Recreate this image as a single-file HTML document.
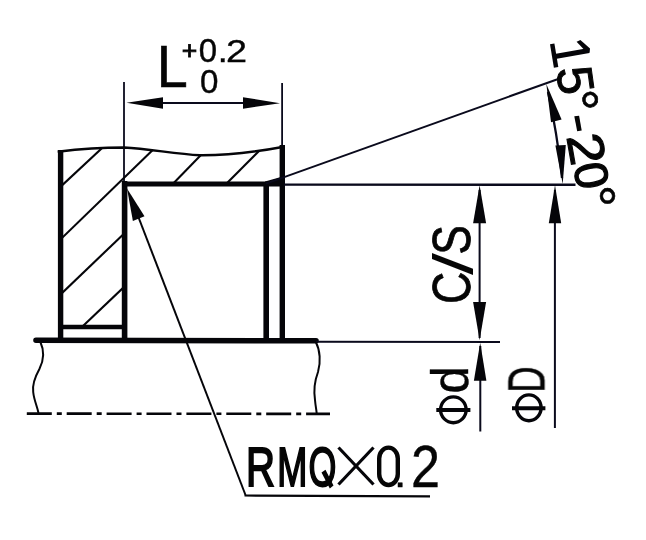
<!DOCTYPE html>
<html><head><meta charset="utf-8"><style>
html,body{margin:0;padding:0;background:#fff;}
svg{display:block;}
</style></head><body>
<svg width="646" height="540" viewBox="0 0 646 540">
<rect width="646" height="540" fill="#fff"/>
<g stroke="#0a0a1c" fill="none" stroke-linecap="butt">
<line x1="124" y1="82" x2="124" y2="181" stroke-width="1.8" />
<line x1="282.1" y1="83" x2="282.1" y2="146" stroke-width="1.8" />
<line x1="140" y1="103" x2="265" y2="103" stroke-width="2" />
</g>
<g fill="#050509">
<polygon points="126.5,102.7 163.0,108.7 163.0,97.3"/>
<polygon points="280.0,103.2 243.0,97.3 243.0,108.7"/>
</g>
<defs><clipPath id="mat"><path d="M60,151.5 C80,149 100,147.5 124,147.5 C150,149 175,154 200,155.3 C225,155.5 250,153 282,147 L282,177 L266,182 L124,182 L124,327 L60,327 Z"/></clipPath></defs>
<g clip-path="url(#mat)" stroke="#050509" stroke-width="2.1">
<line x1="110.8" y1="139.9" x2="53" y2="193.8" stroke-width="2.1" />
<line x1="161.3" y1="141.7" x2="53.3" y2="246.4" stroke-width="2.1" />
<line x1="210.1" y1="145.6" x2="165.7" y2="191.3" stroke-width="2.1" />
<line x1="131" y1="226.9" x2="53.3" y2="301.5" stroke-width="2.1" />
<line x1="267.3" y1="142.8" x2="218.6" y2="191.4" stroke-width="2.1" />
<line x1="131.6" y1="279.8" x2="73.5" y2="335.0" stroke-width="2.1" />
</g>
<g stroke="#050509" fill="none">
<path d="M57.7,151.7 C80,149 100,147.5 124,147.5 C150,149 175,154 200,155.3 C225,155.5 250,153 281,147.2" stroke-width="2.4"/>
<line x1="60.6" y1="150" x2="60.6" y2="340" stroke-width="5.4" />
<line x1="124.6" y1="181" x2="124.6" y2="340" stroke-width="5.6" />
<line x1="122" y1="184.1" x2="269" y2="184.1" stroke-width="5" />
<line x1="60" y1="327" x2="125" y2="327" stroke-width="4.6" />
<line x1="266.2" y1="182" x2="266.2" y2="340" stroke-width="5.6" />
<line x1="282.3" y1="145" x2="282.3" y2="340" stroke-width="5.4" />
</g>
<polygon points="265,181.6 280,177.2 282,177.2 282,186.5 265,186.5" fill="#050509"/>
<g stroke="#050509" fill="none">
<path d="M36,340.3 L316,340.8" stroke-width="5.6" stroke-linecap="round"/>
<line x1="316" y1="341.7" x2="500" y2="342" stroke-width="2" stroke="#0a0a1c"/>
<path d="M40.4,342 C45,352 43,362 39.4,369 C35,377 32,384 33.2,392 C34,400 37,406 38.5,413" stroke-width="2"/>
<path d="M316,342.5 C320,350 321,362 318,372 C315,380 313.5,390 315,400 C315.5,406 316.5,410 316.7,413.5" stroke-width="2"/>
<path d="M26.8,413.6 L330,413.9" stroke-width="2.6" stroke-dasharray="25 5 5 4.9"/>
</g>
<g stroke="#050509" fill="none">
<line x1="133" y1="203" x2="245.5" y2="495" stroke-width="2" />
<line x1="244.5" y1="495.5" x2="430" y2="496.3" stroke-width="2.2" />
</g>
<g fill="#050509">
<polygon points="127.0,188.5 132.9,220.9 144.5,216.3"/>
</g>
<g stroke="#0a0a1c" fill="none">
<line x1="266" y1="183.6" x2="557.5" y2="79.2" stroke-width="2" />
<line x1="284" y1="184.6" x2="575.5" y2="184.8" stroke-width="2.4" />
<path d="M548,92 Q557,132 562,178" stroke-width="2.3"/>
</g>
<g fill="#050509">
<polygon points="546.3,84.0 551.0,122.2 561.6,119.4"/>
<polygon points="562.7,184.0 565.8,145.0 555.4,145.6"/>
</g>
<g stroke="#0a0a1c" fill="none">
<line x1="479.6" y1="190" x2="479.6" y2="338" stroke-width="2" />
<line x1="480.3" y1="346" x2="480.3" y2="431.5" stroke-width="2" />
<line x1="554.9" y1="190" x2="554.9" y2="428" stroke-width="2" />
</g>
<g fill="#050509">
<polygon points="479.6,185.3 473.1,223.3 486.1,223.3"/>
<polygon points="479.6,340.3 486.1,302.0 473.1,302.0"/>
<polygon points="480.2,342.8 473.9,380.8 486.4,380.8"/>
<polygon points="555.0,185.3 548.8,223.3 561.2,223.3"/>
</g>
<defs><filter id="gs" x="-0.05" y="-0.05" width="1.1" height="1.1" filterUnits="objectBoundingBox"><feColorMatrix type="saturate" values="0"/></filter></defs>
<g font-family="Liberation Sans" font-size="100" fill="#050509" filter="url(#gs)">
<text transform="translate(156.75,86.60) scale(0.5568,0.5870)" stroke="#050509" stroke-width="0.6" vector-effect="non-scaling-stroke" >L</text>
<text transform="translate(181.67,59.44) scale(0.2653,0.2490)" stroke="#050509" stroke-width="0.8" vector-effect="non-scaling-stroke" >+</text>
<text transform="translate(198.78,61.57) scale(0.3292,0.3254)" stroke="#050509" stroke-width="0.4" vector-effect="non-scaling-stroke" >0</text>
<text transform="translate(217.76,61.90) scale(0.3600,0.3364)" stroke="#050509" stroke-width="0.4" vector-effect="non-scaling-stroke" >.</text>
<text transform="translate(226.11,61.90) scale(0.3783,0.3214)" stroke="#050509" stroke-width="0.4" vector-effect="non-scaling-stroke" >2</text>
<text transform="translate(199.88,92.66) scale(0.3313,0.3408)" stroke="#050509" stroke-width="0.4" vector-effect="non-scaling-stroke" >0</text>
<text transform="translate(245.99,486.40) scale(0.4017,0.5638)" stroke="#050509" stroke-width="1.8" vector-effect="non-scaling-stroke" >R</text>
<text transform="translate(277.21,486.40) scale(0.3612,0.5638)" stroke="#050509" stroke-width="1.8" vector-effect="non-scaling-stroke" >M</text>
<text transform="translate(308.51,485.54) scale(0.3588,0.5563)" stroke="#050509" stroke-width="1.6" vector-effect="non-scaling-stroke" >O</text>
<polygon points="321.5,472.5 325.5,469.8 333.5,485.5 329.8,488.5" fill="#050509"/>
<rect x="379.2" y="447.6" width="18.6" height="37.4" rx="9.3" ry="11" fill="none" stroke="#050509" stroke-width="4.4"/>
<text transform="translate(393.89,486.85) scale(0.4400,0.3909)" stroke="#050509" stroke-width="0.5" vector-effect="non-scaling-stroke" >.</text>
<text transform="translate(410.89,486.90) scale(0.5217,0.5900)" stroke="#050509" stroke-width="0.4" vector-effect="non-scaling-stroke" >2</text>
<text transform="translate(469.61,254.87) rotate(-90) scale(0.4439,0.5394)" stroke="#050509" stroke-width="0.7" vector-effect="non-scaling-stroke" >S</text>
<text transform="translate(472.24,275.00) rotate(-90) scale(0.7929,0.5630)"  >/</text>
<text transform="translate(469.71,304.09) rotate(-90) scale(0.4476,0.5380)" stroke="#050509" stroke-width="0.7" vector-effect="non-scaling-stroke" >C</text>
<text transform="translate(468.38,393.56) rotate(-90) scale(0.4889,0.5192)" stroke="#050509" stroke-width="0.4" vector-effect="non-scaling-stroke" >d</text>
<text transform="translate(544.85,392.56) rotate(-90) scale(0.3633,0.5261)" stroke="#050509" stroke-width="0.5" vector-effect="non-scaling-stroke" >D</text>
<text transform="rotate(-8 575.25 80.30) translate(558.10,66.18) rotate(90) scale(0.5042,0.5043)" stroke="#050509" stroke-width="1.0" vector-effect="non-scaling-stroke" >5</text>
<text transform="rotate(-8 590.25 99.75) translate(559.25,88.68) rotate(90) scale(0.5536,0.5536)" stroke="#050509" stroke-width="0.6" vector-effect="non-scaling-stroke" >°</text>
<polygon points="574.3,116.3 579.1,115.7 581.7,130.6 577.2,131.2" fill="#050509"/>
<text transform="rotate(-10 586.65 148.85) translate(569.00,133.21) rotate(90) scale(0.5587,0.5043)" stroke="#050509" stroke-width="1.2" vector-effect="non-scaling-stroke" >2</text>
<text transform="rotate(-10 591.45 175.55) translate(575.37,162.31) rotate(90) scale(0.4729,0.4662)" stroke="#050509" stroke-width="1.2" vector-effect="non-scaling-stroke" >0</text>
<text transform="translate(577.25,184.74) rotate(90) scale(0.5607,0.5321)" stroke="#050509" stroke-width="0.6" vector-effect="non-scaling-stroke" >°</text>
</g>
<g fill="none" stroke="#050509">
<ellipse cx="453.35" cy="409.8" rx="12.8" ry="12.95" stroke-width="3.3"/>
<line x1="436.3" y1="410.1" x2="470.4" y2="410.1" stroke-width="4"/>
<ellipse cx="528.9" cy="407.8" rx="12.2" ry="12.9" stroke-width="3.4"/>
<line x1="512" y1="408.2" x2="545.4" y2="408.2" stroke-width="4"/>
</g>
<g stroke="#050509" stroke-width="3.2">
<line x1="338.5" y1="447.5" x2="373.5" y2="484.5" stroke-width="3.2" />
<line x1="373.5" y1="447.5" x2="338.5" y2="484.5" stroke-width="3.2" />
</g>
<g fill="#050509"><polygon points="550.0,44.3 554.4,43.5 558.3,66.9 553.9,67.7"/><polygon points="554.6,54 588.6,48 589.4,53 555.4,59"/><polygon points="576.6,41.8 580.4,40 590,48.5 589.6,52.5 586.5,52.2"/></g>
</svg>
</body></html>
